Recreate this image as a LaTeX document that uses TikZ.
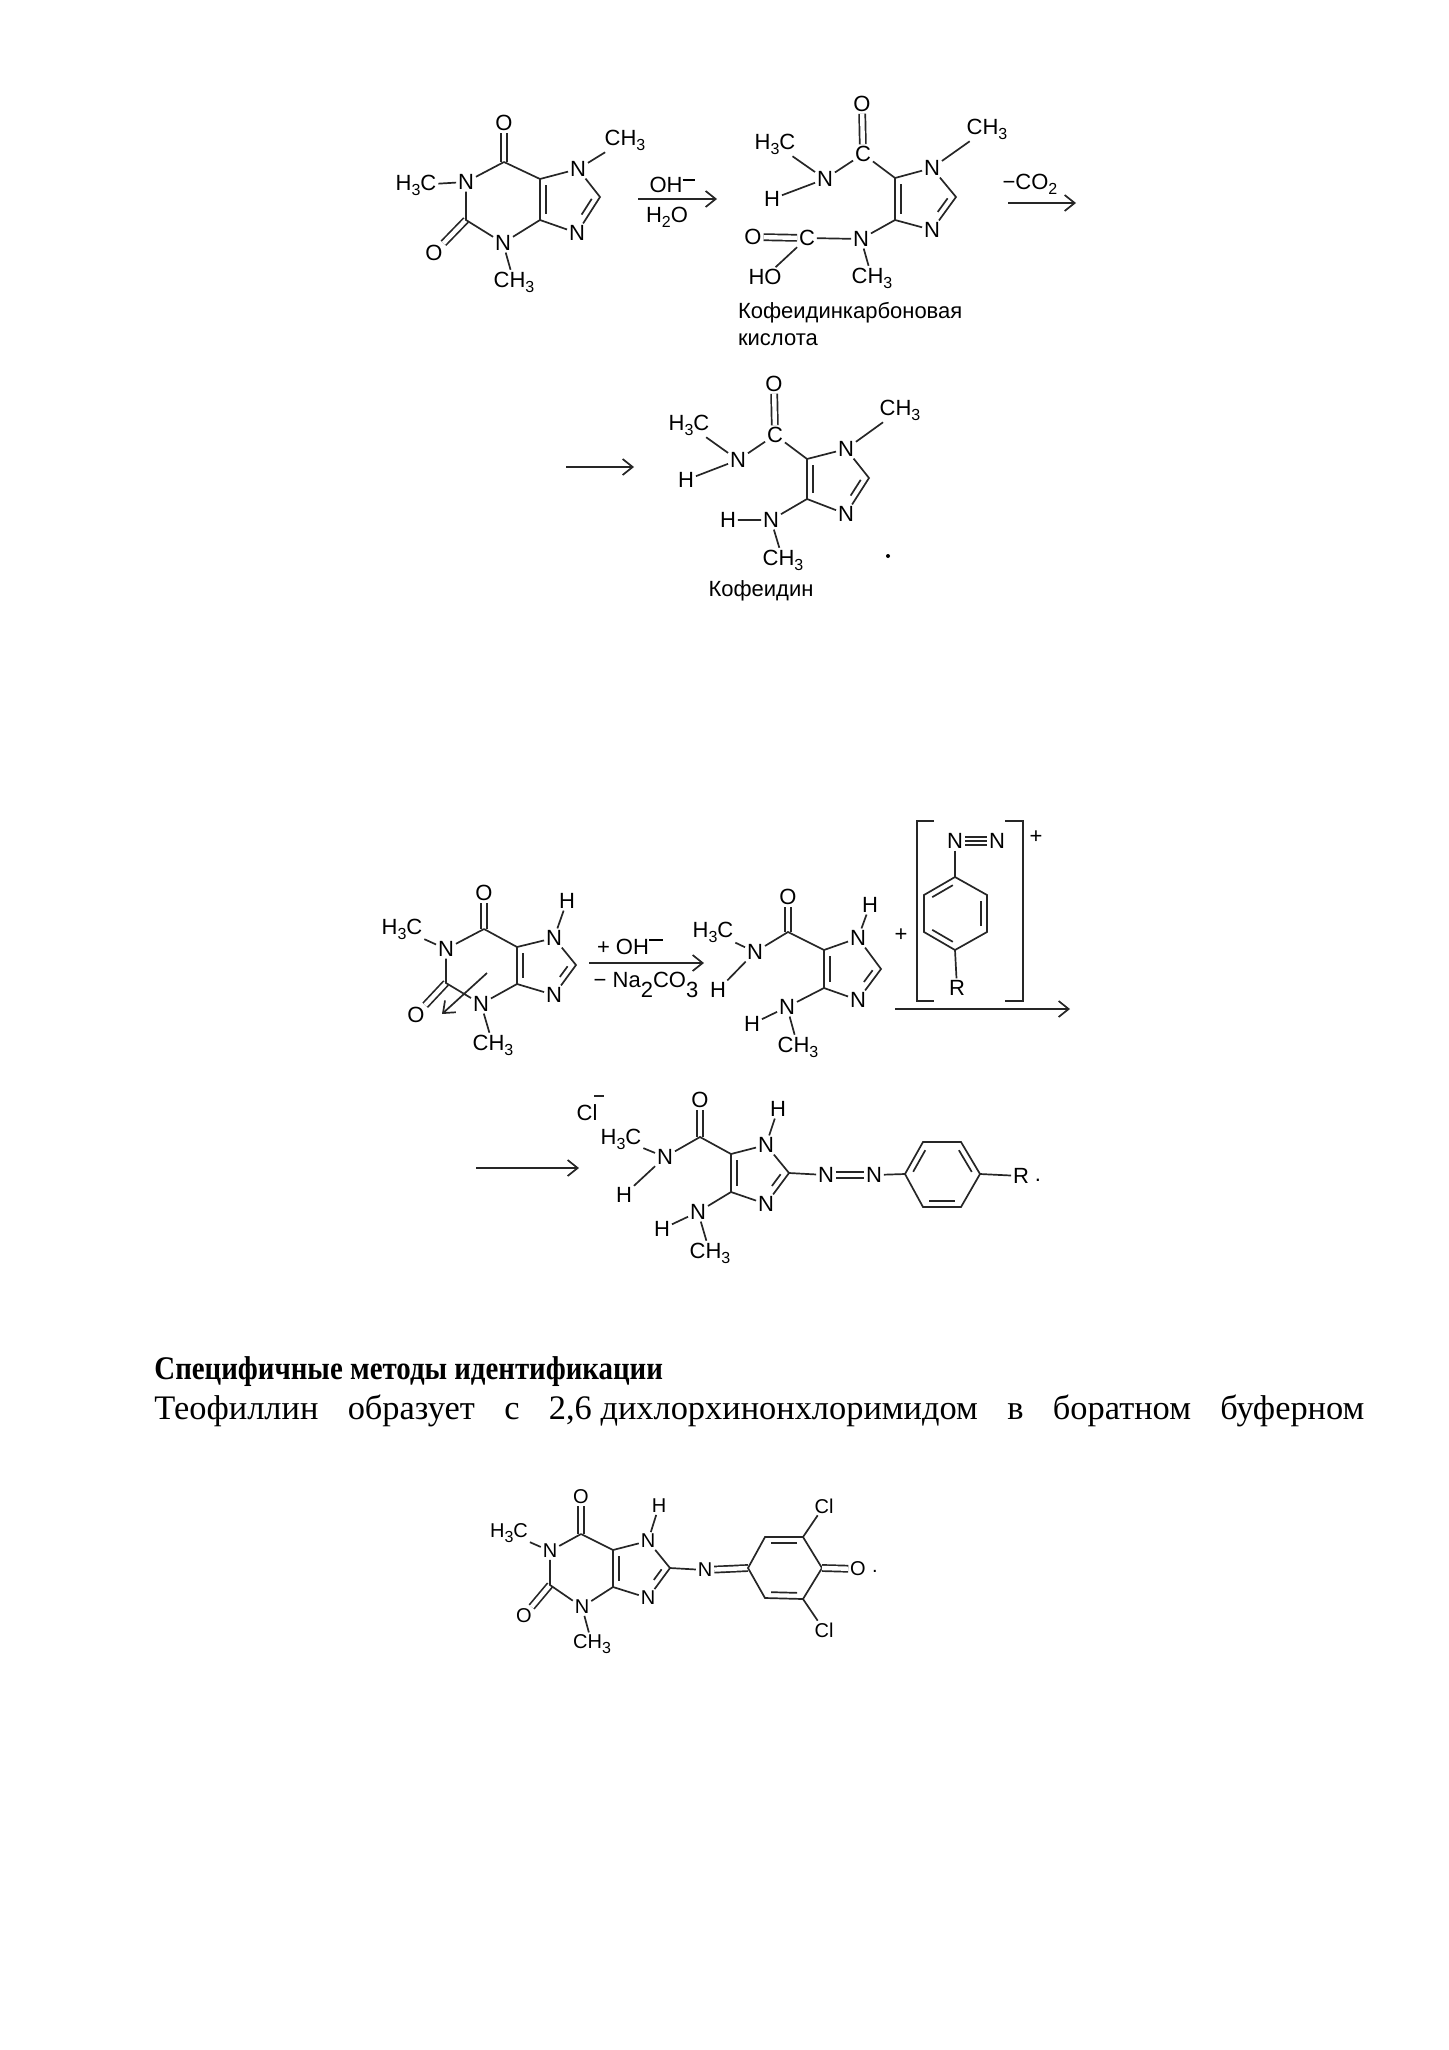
\documentclass[tikz,border=0pt]{standalone}
\usepackage{fontspec}
\setmainfont{Liberation Serif}
\newfontfamily\chemfont{Liberation Sans}
\usepackage{tikz}
\usetikzlibrary{calc,arrows.meta}
\newcommand{\sbs}[1]{\raisebox{-2.5pt}{\fontsize{8}{8}\selectfont #1}}
\newcommand{\inbond}[4][]{\draw[bond,shorten <=3pt,shorten >=3pt,#1] ($(#2)!3pt!-#4:(#3)$) -- ($(#3)!3pt!#4:(#2)$);}
\tikzset{
  atom/.style={inner sep=0.8pt,font=\chemfont\fontsize{11}{13}\selectfont},
  smallatom/.style={inner sep=0.8pt,font=\chemfont\fontsize{10}{12}\selectfont},
  bond/.style={line width=0.85pt,draw=black!85},
  dbond/.style={bond,double,double distance=2.2pt},
  react/.style={line width=0.85pt,draw=black!85,-{Straight Barb[length=5pt,width=8pt]}},
}
\begin{document}
\begin{tikzpicture}[x=0.5pt,y=0.5pt,yscale=-1,xscale=1]
\useasboundingbox (0,0) rectangle (1449,2050);
%Caffeine
\draw (504,123) node [atom] (aO6) {O};
\draw (466,182) node [atom] (aN1) {N};
\draw (416,185) node [atom] (aMe1) {H\sbs{3}C};
\draw (434,253) node [atom] (aO2) {O};
\draw (503,243) node [atom] (aN3) {N};
\draw (514,282) node [atom] (aMe3) {CH\sbs{3}};
\draw (578,169) node [atom] (aN7) {N};
\draw (625,140) node [atom] (aMe7) {CH\sbs{3}};
\draw (577,233) node [atom] (aN9) {N};
\coordinate (aC6) at (504,162);
\coordinate (aC2) at (466,220);
\coordinate (aC4) at (540,220);
\coordinate (aC5) at (540,179);
\coordinate (aC8) at (600,197);
\draw [dbond] (aC6) -- (aO6);
\draw [dbond] (aC2) -- (aO2);
\draw [bond] (aC6) -- (aN1) -- (aC2) -- (aN3) -- (aC4) -- (aC5) -- (aC6);
\draw [bond] (aN1) -- (aMe1);
\draw [bond] (aN3) -- (aMe3);
\draw [bond] (aC5) -- (aN7) -- (aC8) -- (aN9) -- (aC4);
\draw [bond] (aN7) -- (aMe7);
\inbond{aC5}{aC4}{90}
\inbond[shorten >=9pt]{aC8}{aN9}{-90}
%Arrow 1
\coordinate (r1a) at (638,199);
\coordinate (r1b) at (717,199);
\draw [react] (r1a) -- (r1b);
\draw (672,185) node [atom] (r1t) {OH\raisebox{6pt}{\rule{6pt}{0.7pt}}};
\draw (667,217) node [atom] (r1u) {H\sbs{2}O};
%Caffeidine carboxylic acid
\draw (862,104) node [atom] (bO) {O};
\draw (863,154) node [atom] (bC) {C};
\draw (775,144) node [atom] (bMe) {H\sbs{3}C};
\draw (825,179) node [atom] (bN) {N};
\draw (772,199) node [atom] (bH) {H};
\draw (932,168) node [atom] (bN1) {N};
\draw (987,129) node [atom] (bMe1) {CH\sbs{3}};
\draw (932,230) node [atom] (bN3) {N};
\draw (861,239) node [atom] (bNa) {N};
\draw (807,238) node [atom] (bCa) {C};
\draw (753,237) node [atom] (bOa) {O};
\draw (765,277) node [atom] (bHO) {HO};
\draw (872,278) node [atom] (bMea) {CH\sbs{3}};
\coordinate (bC5) at (895,178);
\coordinate (bC4) at (895,220);
\coordinate (bC2) at (956,197);
\draw [dbond] (bC) -- (bO);
\draw [bond] (bMe) -- (bN) -- (bC) -- (bC5);
\draw [bond] (bH) -- (bN);
\draw [bond] (bC5) -- (bC4) -- (bN3) -- (bC2) -- (bN1) -- (bC5);
\draw [bond] (bN1) -- (bMe1);
\draw [bond] (bC4) -- (bNa) -- (bCa);
\draw [bond] (bNa) -- (bMea);
\draw [dbond] (bCa) -- (bOa);
\draw [bond] (bCa) -- (bHO);
\inbond{bC5}{bC4}{90}
\inbond[shorten >=9pt]{bC2}{bN3}{-90}
\draw (736,313) node [atom,anchor=west] (bText1) {Кофеидинкарбоновая};
\draw (736,340) node [atom,anchor=west] (bText2) {кислота};
%Arrow 2
\coordinate (r2a) at (1008,203);
\coordinate (r2b) at (1076,203);
\draw [react] (r2a) -- (r2b);
\draw (1030,184) node [atom] (r2t) {−CO\sbs{2}};
%Caffeidine
\coordinate (r3a) at (566,467);
\coordinate (r3b) at (634,467);
\draw [react] (r3a) -- (r3b);
\draw (774,384) node [atom] (cO) {O};
\draw (775,435) node [atom] (cC) {C};
\draw (689,425) node [atom] (cMe) {H\sbs{3}C};
\draw (738,460) node [atom] (cN) {N};
\draw (686,480) node [atom] (cH) {H};
\draw (846,449) node [atom] (cN1) {N};
\draw (900,410) node [atom] (cMe1) {CH\sbs{3}};
\draw (846,514) node [atom] (cN3) {N};
\draw (771,520) node [atom] (cNa) {N};
\draw (728,520) node [atom] (cHa) {H};
\draw (783,560) node [atom] (cMea) {CH\sbs{3}};
\coordinate (cC5) at (807,459);
\coordinate (cC4) at (807,499);
\coordinate (cC2) at (869,478);
\draw [dbond] (cC) -- (cO);
\draw [bond] (cMe) -- (cN) -- (cC) -- (cC5);
\draw [bond] (cH) -- (cN);
\draw [bond] (cC5) -- (cC4) -- (cN3) -- (cC2) -- (cN1) -- (cC5);
\draw [bond] (cN1) -- (cMe1);
\draw [bond] (cC4) -- (cNa) -- (cHa);
\draw [bond] (cNa) -- (cMea);
\inbond{cC5}{cC4}{90}
\inbond[shorten >=9pt]{cC2}{cN3}{-90}
\draw (761,591) node [atom] (cText) {Кофеидин};
\fill (888,556) circle (2);
%Theophylline
\draw (484,893) node [atom] (dO6) {O};
\draw (446,949) node [atom] (dN1) {N};
\draw (402,929) node [atom] (dMe1) {H\sbs{3}C};
\draw (416,1015) node [atom] (dO2) {O};
\draw (481,1004) node [atom] (dN3) {N};
\draw (493,1045) node [atom] (dMe3) {CH\sbs{3}};
\draw (554,938) node [atom] (dN7) {N};
\draw (567,901) node [atom] (dH7) {H};
\draw (554,995) node [atom] (dN9) {N};
\coordinate (dC6) at (484,929);
\coordinate (dC2) at (446,983);
\coordinate (dC4) at (517,984);
\coordinate (dC5) at (517,947);
\coordinate (dC8) at (576,965);
\draw [dbond] (dC6) -- (dO6);
\draw [dbond] (dC2) -- (dO2);
\draw [bond] (dC6) -- (dN1) -- (dC2) -- (dN3) -- (dC4) -- (dC5) -- (dC6);
\draw [bond] (dN1) -- (dMe1);
\draw [bond] (dN3) -- (dMe3);
\draw [bond] (dC5) -- (dN7) -- (dC8) -- (dN9) -- (dC4);
\draw [bond] (dN7) -- (dH7);
\inbond{dC5}{dC4}{90}
\inbond[shorten >=9pt]{dC8}{dN9}{-90}
\coordinate (dCut) at (487,973);
\coordinate (dCutEnd) at (442,1014);
\draw [react] (dCut) -- (dCutEnd);
%Arrow 4
\coordinate (r4a) at (589,963);
\coordinate (r4b) at (704,963);
\draw [react] (r4a) -- (r4b);
\draw (630,947) node [atom] (r4t) {+ OH\raisebox{7pt}{\rule{7pt}{0.7pt}}};
\draw (646,985) node [atom] (r4u) {− Na\raisebox{-5pt}{2}CO\raisebox{-5pt}{3}};
%Opened ring
\draw (788,897) node [atom] (eO) {O};
\draw (713,932) node [atom] (eMe) {H\sbs{3}C};
\draw (755,952) node [atom] (eN) {N};
\draw (718,990) node [atom] (eH) {H};
\draw (858,938) node [atom] (eN1) {N};
\draw (870,905) node [atom] (eH1) {H};
\draw (858,1000) node [atom] (eN3) {N};
\draw (787,1007) node [atom] (eNa) {N};
\draw (752,1024) node [atom] (eHa) {H};
\draw (798,1047) node [atom] (eMea) {CH\sbs{3}};
\coordinate (eC) at (788,932);
\coordinate (eC5) at (824,950);
\coordinate (eC4) at (824,988);
\coordinate (eC2) at (881,969);
\draw [dbond] (eC) -- (eO);
\draw [bond] (eMe) -- (eN) -- (eC) -- (eC5);
\draw [bond] (eH) -- (eN);
\draw [bond] (eC5) -- (eC4) -- (eN3) -- (eC2) -- (eN1) -- (eC5);
\draw [bond] (eN1) -- (eH1);
\draw [bond] (eC4) -- (eNa) -- (eHa);
\draw [bond] (eNa) -- (eMea);
\inbond{eC5}{eC4}{90}
\inbond[shorten >=9pt]{eC2}{eN3}{-90}
\draw (901,935) node [atom] (ePlus) {+};
%Diazonium salt
\draw [bond] (934,821) -- (917,821) -- (917,1001) -- (934,1001);
\draw [bond] (1005,821) -- (1023,821) -- (1023,1001) -- (1005,1001);
\draw (1036,837) node [atom] (sPlus) {+};
\draw (955,841) node [atom] (sN1) {N};
\draw (997,841) node [atom] (sN2) {N};
\draw (957,988) node [atom] (sR) {R};
\coordinate (sT) at (955,877);
\coordinate (sUL) at (924,895);
\coordinate (sLL) at (924,932);
\coordinate (sB) at (955,950);
\coordinate (sLR) at (987,932);
\coordinate (sUR) at (987,895);
\draw [bond] (sT) -- (sUL) -- (sLL) -- (sB) -- (sLR) -- (sUR) -- cycle;
\draw [dbond,double distance=3.2pt] (sN1) -- (sN2);
\draw [bond] (sN1) -- (sN2);
\draw [bond] (sN1) -- (sT);
\draw [bond] (sB) -- (sR);
\inbond{sT}{sUL}{90}
\inbond{sLL}{sB}{90}
\inbond{sLR}{sUR}{90}
\coordinate (r5a) at (895,1009);
\coordinate (r5b) at (1070,1009);
\draw [react] (r5a) -- (r5b);
%Azo dye
\coordinate (r6a) at (476,1168);
\coordinate (r6b) at (579,1168);
\draw [react] (r6a) -- (r6b);
\draw (587,1113) node [atom] (fCl) {Cl};
\draw [bond] (594,1096) -- (604,1096);
\draw (700,1100) node [atom] (fO) {O};
\draw (621,1139) node [atom] (fMe) {H\sbs{3}C};
\draw (665,1157) node [atom] (fN) {N};
\draw (624,1195) node [atom] (fH) {H};
\draw (766,1145) node [atom] (fN1) {N};
\draw (778,1109) node [atom] (fH1) {H};
\draw (766,1204) node [atom] (fN3) {N};
\draw (698,1212) node [atom] (fNa) {N};
\draw (662,1229) node [atom] (fHa) {H};
\draw (710,1253) node [atom] (fMea) {CH\sbs{3}};
\draw (826,1175) node [atom] (fAz1) {N};
\draw (874,1175) node [atom] (fAz2) {N};
\draw (1021,1176) node [atom] (fR) {R};
\draw (1038,1180) node [atom] (fDot) {.};
\coordinate (fC) at (700,1137);
\coordinate (fC5) at (731,1154);
\coordinate (fC4) at (731,1192);
\coordinate (fC2) at (789,1173);
\coordinate (fL) at (905,1174);
\coordinate (fUL) at (923,1142);
\coordinate (fUR) at (961,1142);
\coordinate (fRt) at (980,1174);
\coordinate (fLR) at (961,1207);
\coordinate (fLL) at (923,1207);
\draw [dbond] (fC) -- (fO);
\draw [bond] (fMe) -- (fN) -- (fC) -- (fC5);
\draw [bond] (fH) -- (fN);
\draw [bond] (fC5) -- (fC4) -- (fN3) -- (fC2) -- (fN1) -- (fC5);
\draw [bond] (fN1) -- (fH1);
\draw [bond] (fC4) -- (fNa) -- (fHa);
\draw [bond] (fNa) -- (fMea);
\draw [bond] (fC2) -- (fAz1);
\draw [dbond] (fAz1) -- (fAz2);
\draw [bond] (fAz2) -- (fL);
\draw [bond] (fL) -- (fUL) -- (fUR) -- (fRt) -- (fLR) -- (fLL) -- cycle;
\draw [bond] (fRt) -- (fR);
\inbond{fC5}{fC4}{90}
\inbond[shorten >=9pt]{fC2}{fN3}{-90}
\inbond{fUL}{fL}{90}
\inbond{fLL}{fLR}{90}
\inbond{fRt}{fUR}{90}
%Text
\draw (154,1379) node [anchor=base west,inner sep=0pt] (tHead) {\scalebox{0.875}[1]{\fontsize{16.5}{20}\selectfont\bfseries Специфичные методы идентификации}};
\draw (154,1419) node [anchor=base west,inner sep=0pt] (tLine) {\hbox to 605pt{\fontsize{17.2}{20}\selectfont Теофиллин\hfill образует\hfill с\hfill 2,6 дихлорхинонхлоримидом\hfill в\hfill боратном\hfill буферном}};
%Indophenol dye
\draw (581,1497) node [smallatom] (gO6) {O};
\draw (550,1551) node [smallatom] (gN1) {N};
\draw (509,1533) node [smallatom] (gMe1) {H\sbs{3}C};
\draw (524,1616) node [smallatom] (gO2) {O};
\draw (582,1607) node [smallatom] (gN3) {N};
\draw (592,1644) node [smallatom] (gMe3) {CH\sbs{3}};
\draw (648,1541) node [smallatom] (gN7) {N};
\draw (659,1506) node [smallatom] (gH7) {H};
\draw (648,1598) node [smallatom] (gN9) {N};
\draw (705,1570) node [smallatom] (gNa) {N};
\draw (858,1569) node [smallatom] (gOq) {O};
\draw (875,1571) node [smallatom] (gDot) {.};
\draw (824,1506) node [smallatom] (gCl1) {Cl};
\draw (824,1630) node [smallatom] (gCl2) {Cl};
\coordinate (gC6) at (581,1534);
\coordinate (gC2) at (550,1585);
\coordinate (gC4) at (613,1587);
\coordinate (gC5) at (613,1550);
\coordinate (gC8) at (670,1568);
\coordinate (gL) at (748,1568);
\coordinate (gUL) at (765,1537);
\coordinate (gUR) at (803,1537);
\coordinate (gRt) at (822,1568);
\coordinate (gLR) at (803,1599);
\coordinate (gLL) at (765,1598);
\draw [dbond] (gC6) -- (gO6);
\draw [dbond] (gC2) -- (gO2);
\draw [bond] (gC6) -- (gN1) -- (gC2) -- (gN3) -- (gC4) -- (gC5) -- (gC6);
\draw [bond] (gN1) -- (gMe1);
\draw [bond] (gN3) -- (gMe3);
\draw [bond] (gC5) -- (gN7) -- (gC8) -- (gN9) -- (gC4);
\draw [bond] (gN7) -- (gH7);
\draw [bond] (gC8) -- (gNa);
\draw [dbond] (gNa) -- (gL);
\draw [bond] (gL) -- (gUL) -- (gUR) -- (gRt) -- (gLR) -- (gLL) -- cycle;
\draw [dbond] (gRt) -- (gOq);
\draw [bond] (gUR) -- (gCl1);
\draw [bond] (gLR) -- (gCl2);
\inbond{gC5}{gC4}{90}
\inbond[shorten >=9pt]{gC8}{gN9}{-90}
\inbond{gUR}{gUL}{90}
\inbond{gLL}{gLR}{90}
\end{tikzpicture}
\end{document}
